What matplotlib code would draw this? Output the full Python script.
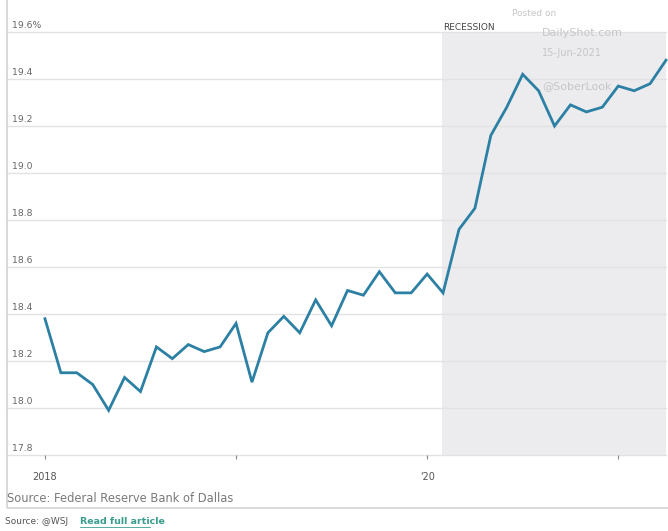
import matplotlib.pyplot as plt
from matplotlib.patches import Rectangle
from matplotlib.lines import Line2D
import numpy as np

# monthly share, Jan 2018 .. Apr 2021
values = [18.38, 18.15, 18.15, 18.10, 17.99, 18.13, 18.07, 18.26, 18.21, 18.27,
          18.24, 18.26, 18.36, 18.11, 18.32, 18.39, 18.32, 18.46, 18.35, 18.50,
          18.48, 18.58, 18.49, 18.49, 18.57, 18.49, 18.76, 18.85, 19.16, 19.28,
          19.42, 19.35, 19.20, 19.29, 19.26, 19.28, 19.37, 19.35, 19.38, 19.48]
tick_pos = [0, 12, 24, 36]
tick_labels = ['2018', '', "'20", '']
y_ticks = [17.8, 18.0, 18.2, 18.4, 18.6, 18.8, 19.0, 19.2, 19.4, 19.6]
y_labels = ['17.8', '18.0', '18.2', '18.4', '18.6', '18.8', '19.0', '19.2', '19.4', '19.6%']
recession_start = 25

W, H = 668, 531
fig = plt.figure(figsize=(W / 100, H / 100), dpi=100)

def fx(px):
    return px / W

def fy(py):
    return 1 - py / H

ax = fig.add_axes([fx(8), fy(455), (666 - 8) / W, (455 - 32) / H])
x = np.arange(len(values))

ax.set_xlim(-2.32, 39.0)
ax.set_ylim(17.8, 19.6)

ax.axvspan(recession_start - 0.05, 39.0, color='#ececef', zorder=0, lw=0)
for v in y_ticks:
    ax.axhline(v, color='#e2e2e2', lw=1, zorder=1, clip_on=False)

ax.plot(x, values, color='#2c80a4', lw=2, zorder=3, clip_on=False,
        solid_joinstyle='miter')

for v, lab in zip(y_ticks, y_labels):
    ax.annotate(lab, xy=(0.006, v), xycoords=('axes fraction', 'data'),
                xytext=(0, 4.5), textcoords='offset points',
                ha='left', va='center', fontsize=6.7, color='#666666')

ax.text(recession_start, 19.6, 'RECESSION', ha='left', va='bottom',
        fontsize=6.5, color='#444444', transform=ax.transData)

ax.set_xticks(tick_pos)
ax.set_xticklabels(tick_labels)
ax.set_yticks([])
ax.tick_params(axis='x', length=3, width=0.8, color='#888888', pad=9,
               labelsize=7, labelcolor='#555555')
for s in ax.spines.values():
    s.set_visible(False)

# frame around chart and source
fig.patches.append(Rectangle((fx(7), fy(508)), fx(700), 1.0, transform=fig.transFigure,
                             fill=False, edgecolor='#d2d2d2', lw=1.2))

fig.text(fx(7), fy(499), 'Source: Federal Reserve Bank of Dallas', ha='left', va='center',
         fontsize=8.3, color='#7a7a7a')
fig.text(fx(5), fy(522), 'Source: @WSJ', ha='left', va='center',
         fontsize=6.5, color='#555555')
fig.text(fx(80), fy(522), 'Read full article', ha='left', va='center',
         fontsize=6.8, color='#3a9d8e', fontweight='bold')
fig.add_artist(Line2D([fx(80), fx(150)], [fy(527), fy(527)], color='#3a9d8e', lw=0.6))

# watermark
wm = '#c6c6c6'
fig.text(fx(512), fy(13), 'Posted on', ha='left', va='center', fontsize=6.5, color=wm)
fig.text(fx(542), fy(33), 'DailyShot.com', ha='left', va='center', fontsize=8, color=wm)
fig.text(fx(542), fy(53), '15-Jun-2021', ha='left', va='center', fontsize=7, color=wm)
fig.text(fx(542), fy(86), '@SoberLook', ha='left', va='center', fontsize=8, color=wm)

fig.savefig('out.png', dpi=100, facecolor='white')
